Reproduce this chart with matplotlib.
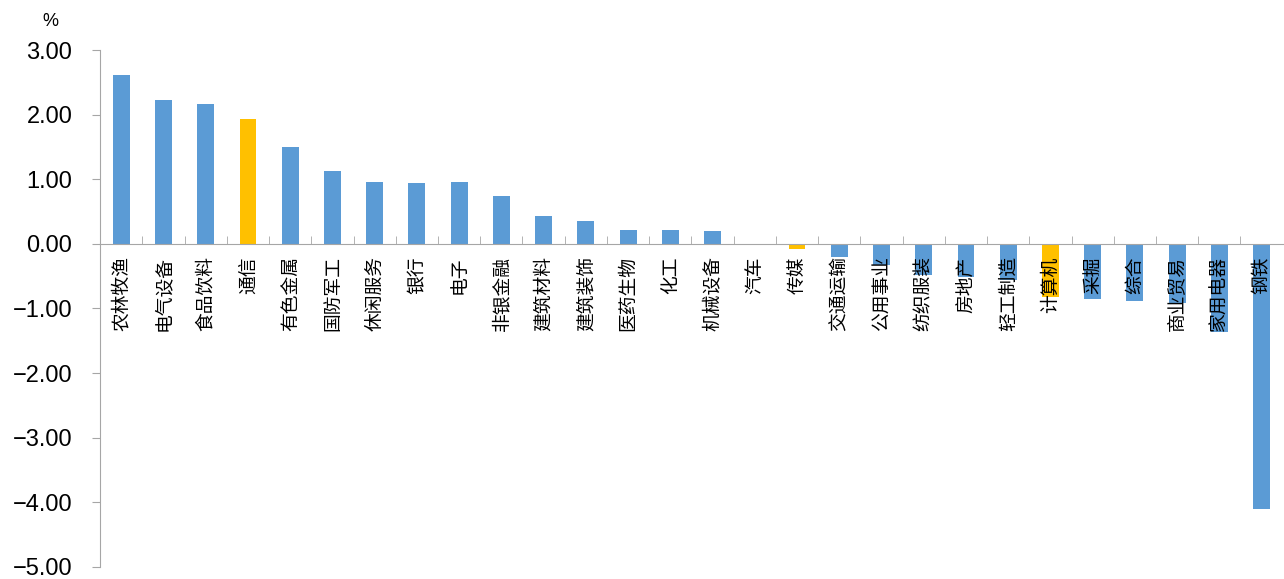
import matplotlib.pyplot as plt
import numpy as np

plt.rcParams['font.family'] = ['Noto Sans CJK SC', 'DejaVu Sans']
plt.rcParams['axes.unicode_minus'] = True

# industries and weekly change (%)
industries = ["农林牧渔", "电气设备", "食品饮料", "通信", "有色金属", "国防军工", "休闲服务",
              "银行", "电子", "非银金融", "建筑材料", "建筑装饰", "医药生物", "化工",
              "机械设备", "汽车", "传媒", "交通运输", "公用事业", "纺织服装", "房地产",
              "轻工制造", "计算机", "采掘", "综合", "商业贸易", "家用电器", "钢铁"]
changes = [2.61, 2.23, 2.16, 1.93, 1.50, 1.13, 0.96,
           0.94, 0.96, 0.74, 0.43, 0.36, 0.22, 0.22,
           0.20, 0.00, -0.08, -0.21, -0.32, -0.48, -0.52,
           -0.56, -0.82, -0.86, -0.89, -0.92, -1.37, -4.10]
highlight = ["通信", "传媒", "计算机"]

blue = "#5B9BD5"
yellow = "#FFC000"
grey = "#A6A6A6"

colors = [yellow if name in highlight else blue for name in industries]
x = np.arange(len(industries))

fig = plt.figure(figsize=(12.84, 5.79), dpi=100)
ax = fig.add_axes([0.078, 0.021, 0.921, 0.8926])

ax.bar(x, changes, width=0.4, color=colors, zorder=1)

ax.set_xlim(-0.5, len(industries) - 0.5)
ax.set_ylim(-5, 3)
ax.set_yticks(np.arange(-5, 3.01, 1))
ax.set_yticklabels([f"{v:.2f}".replace("-", "\u2212") for v in np.arange(-5, 3.01, 1)],
                   fontsize=17, family=['Liberation Sans', 'DejaVu Sans'])

# category axis sits on zero, labels drawn over the bars
ax.spines['bottom'].set_position(('data', 0))
ax.spines['top'].set_visible(False)
ax.spines['right'].set_visible(False)
ax.spines['bottom'].set_color(grey)
ax.spines['left'].set_color(grey)
ax.spines['bottom'].set_zorder(3)
ax.xaxis.set_zorder(4)

ax.set_xticks(x)
ax.set_xticklabels(industries, rotation=90, fontsize=13.5, va='top', ha='center')
ax.tick_params(axis='x', which='major', length=0, pad=9)
ax.set_xticks(x[:-1] + 0.5, minor=True)
ax.tick_params(axis='x', which='minor', direction='in', length=6, color=grey)
ax.tick_params(axis='y', direction='out', length=6, color=grey, pad=14)

fig.text(0.033, 0.955, "%", fontsize=13, family=['Liberation Sans', 'DejaVu Sans'])

fig.savefig("out.png", dpi=100)
